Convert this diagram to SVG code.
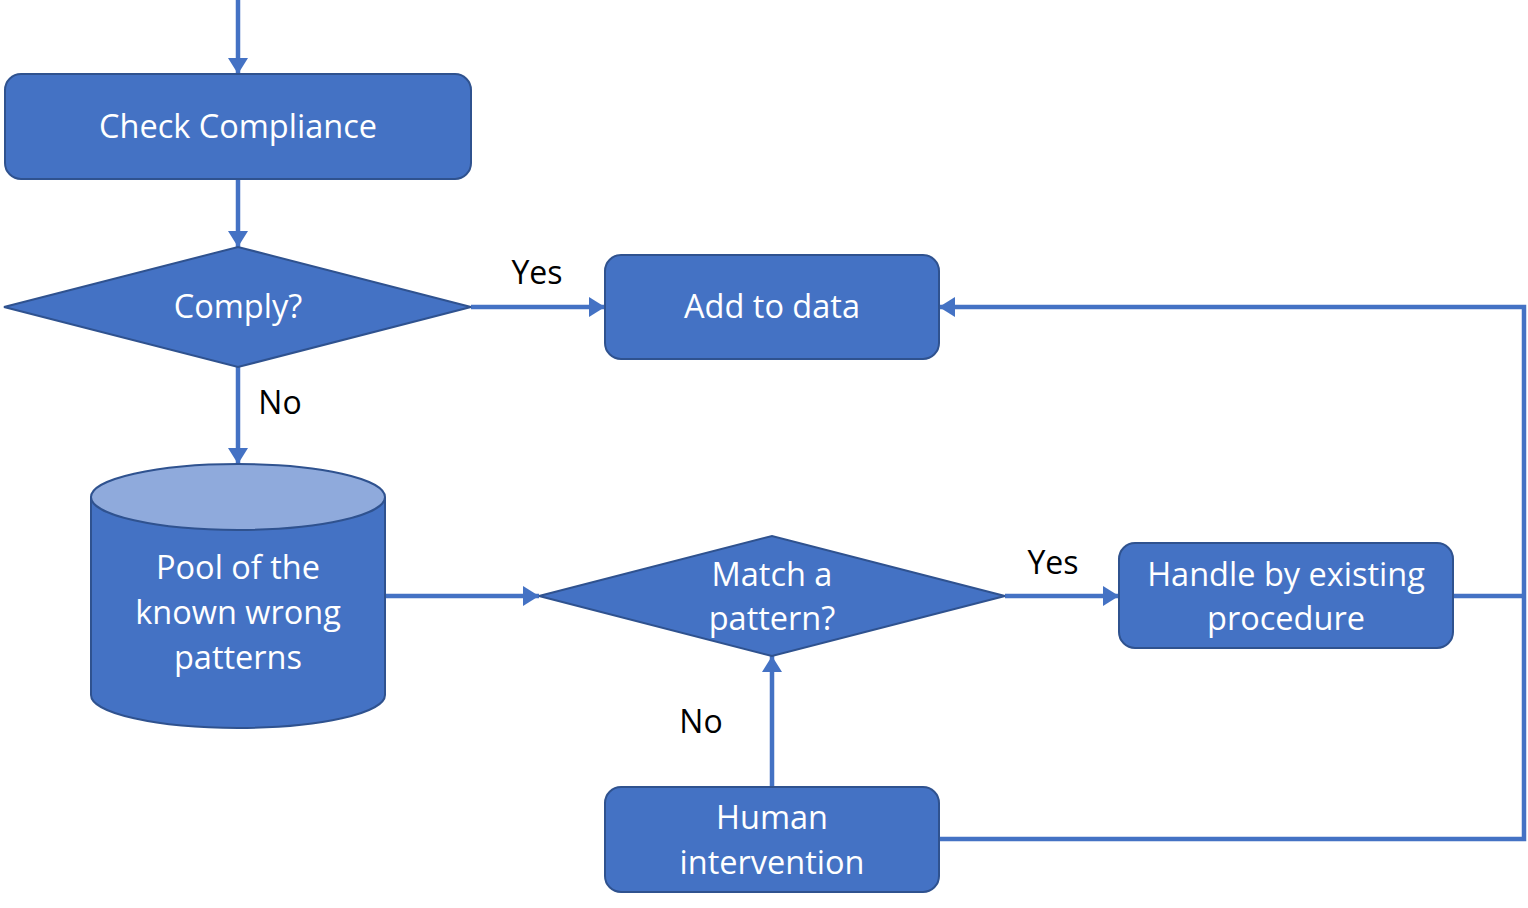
<svg xmlns="http://www.w3.org/2000/svg" width="1528" height="908" viewBox="0 0 1528 908">
<defs>
<marker id="ah" markerUnits="userSpaceOnUse" markerWidth="16" markerHeight="20" refX="16" refY="10" orient="auto">
<path d="M0,0 L16,10 L0,20 Z" fill="#4472C4"/>
</marker>
<style>
.n{fill:#4472C4;stroke:#2F528F;stroke-width:2}
.t{fill:#fff;font-family:"Open Sans","Noto Sans",sans-serif;font-size:32.5px;text-anchor:middle}
.l{fill:#000;font-family:"Open Sans","Noto Sans",sans-serif;font-size:32px;text-anchor:middle}
.c{fill:none;stroke:#4472C4;stroke-width:4.5}
</style>
</defs>
<rect width="1528" height="908" fill="#fff"/>
<g id="connectors">
<line class="c" x1="238" y1="0" x2="238" y2="74" marker-end="url(#ah)"/>
<line class="c" x1="238" y1="179" x2="238" y2="247" marker-end="url(#ah)"/>
<line class="c" x1="471" y1="307" x2="605" y2="307" marker-end="url(#ah)"/>
<line class="c" x1="238" y1="367" x2="238" y2="464" marker-end="url(#ah)"/>
<line class="c" x1="385" y1="596" x2="539" y2="596" marker-end="url(#ah)"/>
<line class="c" x1="1005" y1="596" x2="1119" y2="596" marker-end="url(#ah)"/>
<line class="c" x1="772" y1="787" x2="772" y2="656" marker-end="url(#ah)"/>
<polyline class="c" points="1453,596 1524,596"/>
<polyline class="c" points="939,839 1524,839 1524,307 939,307" marker-end="url(#ah)"/>
<text class="l" x="537" y="284">Yes</text>
<text class="l" x="280" y="414">No</text>
<text class="l" x="1053" y="574">Yes</text>
<text class="l" x="701" y="733">No</text>
</g>
<g id="check">
<rect class="n" x="5" y="74" width="466" height="105" rx="16"/>
<text class="t" x="238" y="138">Check Compliance</text>
</g>
<g id="comply">
<polygon class="n" points="4,307 238,247 471,307 238,367"/>
<text class="t" x="238" y="318">Comply?</text>
</g>
<g id="add">
<rect class="n" x="605" y="255" width="334" height="104" rx="16"/>
<text class="t" x="772" y="318">Add to data</text>
</g>
<g id="pool">
<path class="n" d="M91,497 L91,695 A147,33 0 0 0 385,695 L385,497"/>
<ellipse cx="238" cy="497" rx="147" ry="33" fill="#8FAADC" stroke="#2F528F" stroke-width="2"/>
<text class="t" x="238" y="579">Pool of the</text>
<text class="t" x="238" y="624">known wrong</text>
<text class="t" x="238" y="669">patterns</text>
</g>
<g id="match">
<polygon class="n" points="539,596 772,536 1005,596 772,656"/>
<text class="t" x="772" y="586">Match a</text>
<text class="t" x="772" y="630">pattern?</text>
</g>
<g id="handle">
<rect class="n" x="1119" y="543" width="334" height="105" rx="16"/>
<text class="t" x="1286" y="586">Handle by existing</text>
<text class="t" x="1286" y="630">procedure</text>
</g>
<g id="human">
<rect class="n" x="605" y="787" width="334" height="105" rx="16"/>
<text class="t" x="772" y="829">Human</text>
<text class="t" x="772" y="874">intervention</text>
</g>
</svg>
